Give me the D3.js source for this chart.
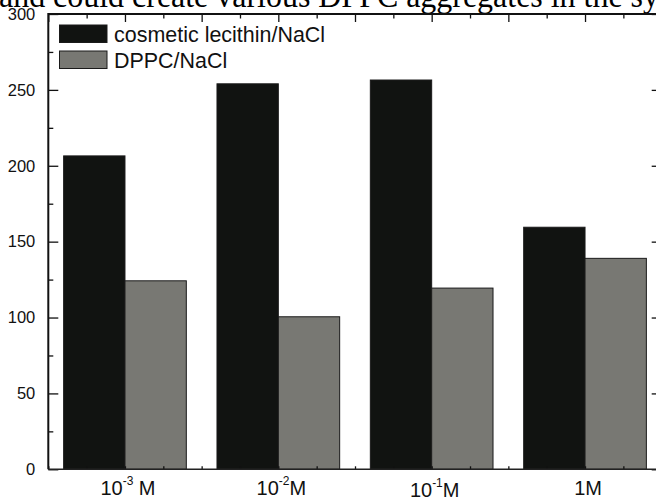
<!DOCTYPE html>
<html>
<head>
<meta charset="utf-8">
<script src="https://cdn.jsdelivr.net/npm/d3@7"></script>
<style>
  html, body { margin: 0; padding: 0; background: #fff; }
  svg { display: block; }
</style>
</head>
<body>
<svg id="chart" width="656" height="500"></svg>
<script>
// Category positions and labels (concentration of NaCl)
const categories = [1, 2, 3, 4];
const catLabels = [
  { base: "10", sup: "-3", unit: " M" },
  { base: "10", sup: "-2", unit: "M" },
  { base: "10", sup: "-1", unit: "M" },
  { base: "", sup: "", unit: "1M" }
];
// Series values
const lecithin = [206.5, 254, 256.5, 159.5];
const dppc = [124.2, 100.5, 119.4, 139];
const seriesNames = ["cosmetic lecithin/NaCl", "DPPC/NaCl"];
const yTicks = [0, 50, 100, 150, 200, 250, 300];
const headline = "and could create various DPPC aggregates in the sy";

const svg = d3.select("#chart");
const plotL = 48.3, plotR = 661.7, plotT = 14, plotB = 469.3;
const sansFont = "Liberation Sans, Arial, sans-serif";

const x = d3.scaleLinear().domain([0.5, 4.5]).range([plotL, plotR]);
const y = d3.scaleLinear().domain([0, 300]).range([plotB, plotT]);
const barW = 0.4;

const colors = ["#111311", "#787873"];

// clipped running text from the page above the figure
svg.append("text")
  .attr("x", -1).attr("y", 6.5)
  .attr("font-family", "Liberation Serif, Times New Roman, serif")
  .attr("font-size", 33)
  .attr("textLength", 660)
  .attr("lengthAdjust", "spacingAndGlyphs")
  .attr("fill", "#000")
  .text(headline);

// white plot background so the text is cut at the frame
svg.append("rect")
  .attr("x", plotL).attr("y", plotT)
  .attr("width", plotR - plotL).attr("height", plotB - plotT)
  .attr("fill", "#fff");

// bars
const bars = svg.append("g");
categories.forEach((c, i) => {
  bars.append("rect")
    .attr("x", x(c - barW)).attr("y", y(lecithin[i]))
    .attr("width", x(c) - x(c - barW)).attr("height", y(0) - y(lecithin[i]))
    .attr("fill", colors[0]).attr("stroke", "#1a1a1a").attr("stroke-width", 1);
  bars.append("rect")
    .attr("x", x(c)).attr("y", y(dppc[i]))
    .attr("width", x(c + barW) - x(c)).attr("height", y(0) - y(dppc[i]))
    .attr("fill", colors[1]).attr("stroke", "#1a1a1a").attr("stroke-width", 1);
});

// axes
const majorX = d3.range(0.5, 4.51, 0.5);
const minorX = d3.range(0.75, 4.5, 0.5);
const minorY = d3.range(25, 300, 50);

function clean(g) {
  g.select(".domain").remove();
  g.selectAll("line").attr("stroke", "#111").attr("stroke-width", 1.3);
}

svg.append("g").attr("transform", `translate(${plotL},0)`)
  .call(d3.axisLeft(y).tickValues(yTicks).tickSizeInner(-10).tickSizeOuter(0).tickPadding(13))
  .call(clean)
  .call(g => g.selectAll("text")
    .attr("font-family", sansFont)
    .attr("font-size", 16.5).attr("fill", "#111"));
svg.append("g").attr("transform", `translate(${plotL},0)`)
  .call(d3.axisLeft(y).tickValues(minorY).tickSizeInner(-5).tickSizeOuter(0).tickFormat(""))
  .call(clean);

svg.append("g").attr("transform", `translate(${plotR},0)`)
  .call(d3.axisRight(y).tickValues(yTicks).tickSizeInner(-10).tickSizeOuter(0).tickFormat(""))
  .call(clean);
svg.append("g").attr("transform", `translate(${plotR},0)`)
  .call(d3.axisRight(y).tickValues(minorY).tickSizeInner(-5).tickSizeOuter(0).tickFormat(""))
  .call(clean);

svg.append("g").attr("transform", `translate(0,${plotT})`)
  .call(d3.axisTop(x).tickValues(majorX).tickSizeInner(-8).tickSizeOuter(0).tickFormat(""))
  .call(clean);
svg.append("g").attr("transform", `translate(0,${plotT})`)
  .call(d3.axisTop(x).tickValues(minorX).tickSizeInner(-4.5).tickSizeOuter(0).tickFormat(""))
  .call(clean);

svg.append("g").attr("transform", `translate(0,${plotB})`)
  .call(d3.axisBottom(x).tickValues(majorX.concat(minorX)).tickSizeInner(-3).tickSizeOuter(0).tickFormat(""))
  .call(clean);

// frame lines
svg.append("path")
  .attr("d", `M${plotL},${plotB}V${plotT}H${plotR}`)
  .attr("fill", "none").attr("stroke", "#111").attr("stroke-width", 2);
svg.append("path")
  .attr("d", `M${plotL},${plotB}H${plotR}`)
  .attr("fill", "none").attr("stroke", "#222").attr("stroke-width", 1.5);

// category labels with superscript exponents
const labels = svg.append("g")
  .attr("font-family", sansFont)
  .attr("fill", "#111");
categories.forEach((c, i) => {
  const L = catLabels[i];
  const t = labels.append("text")
    .attr("text-anchor", "middle")
    .attr("x", x(c) + 3)
    .attr("y", i === 2 ? 497 : 494.5)
    .attr("font-size", 20);
  if (L.base) t.append("tspan").text(L.base);
  if (L.sup) t.append("tspan").attr("dy", -10).attr("font-size", 12).text(L.sup);
  t.append("tspan").attr("dy", L.sup ? 10 : 0).text(L.unit);
});

// legend
const legend = svg.append("g");
seriesNames.forEach((name, i) => {
  const yy = 25 + i * 26;
  legend.append("rect")
    .attr("x", 59.5).attr("y", yy).attr("width", 47.5).attr("height", 17.5)
    .attr("fill", colors[i]).attr("stroke", "#1a1a1a").attr("stroke-width", 1);
  legend.append("text")
    .attr("transform", `translate(114,${yy + 16.7}) scale(0.95,1)`)
    .attr("font-family", sansFont)
    .attr("font-size", 22.6).attr("fill", "#111")
    .text(name);
});
</script>
</body>
</html>
